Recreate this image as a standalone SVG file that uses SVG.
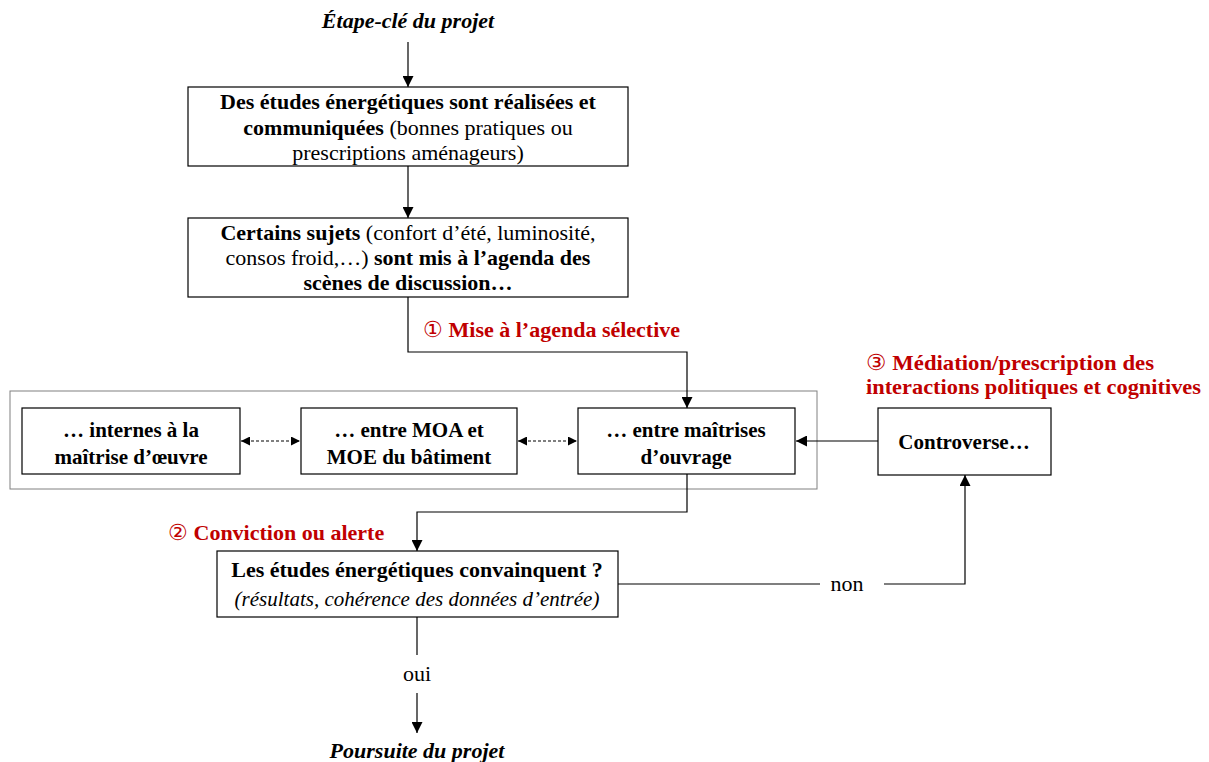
<svg xmlns="http://www.w3.org/2000/svg" width="1209" height="762" viewBox="0 0 1209 762">
<defs>
<marker id="ah" viewBox="0 0 10 10" refX="10" refY="5" markerWidth="11" markerHeight="11" markerUnits="userSpaceOnUse" orient="auto"><path d="M0,0 L10,5 L0,10 z" fill="#000"/></marker>
<marker id="ahs" viewBox="0 0 10 10" refX="10" refY="5" markerWidth="9" markerHeight="9" markerUnits="userSpaceOnUse" orient="auto-start-reverse"><path d="M0,0 L10,5 L0,10 z" fill="#000"/></marker>
<style>
text{font-family:"Liberation Serif","DejaVu Serif",serif;fill:#000}
.t{font-size:22px;text-anchor:middle}
.s{font-size:21px}
.b{font-weight:bold}
.i{font-style:italic}
.r{fill:#c00000;font-weight:bold;font-size:22px}
.n{font-weight:normal}
.box{fill:#fff;stroke:#000;stroke-width:1.2}
.ln{fill:none;stroke:#000;stroke-width:1.2}
.dash{fill:none;stroke:#000;stroke-width:1.2;stroke-dasharray:3,2}
</style>
</defs>
<rect x="10" y="391" width="807" height="98" fill="none" stroke="#808080" stroke-width="1"/>
<g id="connectors">
<line class="ln" x1="408" y1="42" x2="408" y2="87" marker-end="url(#ah)"/>
<line class="ln" x1="408" y1="166" x2="408" y2="218" marker-end="url(#ah)"/>
<polyline class="ln" points="408,297 408,352 687,352 687,408" marker-end="url(#ah)"/>
<line class="dash" x1="241" y1="441" x2="300" y2="441" marker-start="url(#ahs)" marker-end="url(#ahs)"/>
<line class="dash" x1="518" y1="441" x2="577" y2="441" marker-start="url(#ahs)" marker-end="url(#ahs)"/>
<line class="ln" x1="878" y1="441" x2="796" y2="441" marker-end="url(#ah)"/>
<polyline class="ln" points="687,474 687,512 417,512 417,551" marker-end="url(#ah)"/>
<line class="ln" x1="618" y1="584" x2="820" y2="584"/>
<polyline class="ln" points="884,584 965,584 965,475" marker-end="url(#ah)"/>
<line class="ln" x1="417" y1="617" x2="417" y2="655"/>
<line class="ln" x1="417" y1="693" x2="417" y2="733" marker-end="url(#ah)"/>
<text class="t" x="847" y="591" font-size="23">non</text>
<text class="t" x="417" y="681">oui</text>
<text class="r" x="423" y="337"><tspan class="n">①</tspan> Mise à l’agenda sélective</text>
<text class="r" x="168" y="540"><tspan class="n">②</tspan> Conviction ou alerte</text>
<text class="r" x="866" y="370" textLength="288" lengthAdjust="spacingAndGlyphs"><tspan class="n">③</tspan> Médiation/prescription des</text>
<text class="r" x="866" y="394" textLength="335" lengthAdjust="spacingAndGlyphs">interactions politiques et cognitives</text>
</g>
<g id="start"><text class="t b i" x="408" y="28">Étape-clé du projet</text></g>
<g id="n1">
<rect class="box" x="188" y="87" width="440" height="79"/>
<text class="t" x="408" y="109"><tspan class="b">Des études énergétiques sont réalisées et</tspan></text>
<text class="t" x="408" y="135"><tspan class="b">communiquées</tspan> (bonnes pratiques ou</text>
<text class="t" x="408" y="160">prescriptions aménageurs)</text>
</g>
<g id="n2">
<rect class="box" x="188" y="218" width="440" height="79"/>
<text class="t" x="408" y="240"><tspan class="b">Certains sujets</tspan> (confort d’été, luminosité,</text>
<text class="t" x="408" y="265">consos froid,…) <tspan class="b">sont mis à l’agenda des</tspan></text>
<text class="t b" x="408" y="290">scènes de discussion…</text>
</g>
<g id="na">
<rect class="box" x="22" y="408" width="218" height="66"/>
<text class="t b s" x="131" y="437">… internes à la</text>
<text class="t b s" x="131" y="464">maîtrise d’œuvre</text>
</g>
<g id="nb">
<rect class="box" x="301" y="408" width="216" height="66"/>
<text class="t b s" x="409" y="437">… entre MOA et</text>
<text class="t b s" x="409" y="464">MOE du bâtiment</text>
</g>
<g id="nc">
<rect class="box" x="578" y="408" width="217" height="66"/>
<text class="t b s" x="686" y="437">… entre maîtrises</text>
<text class="t b s" x="686" y="464">d’ouvrage</text>
</g>
<g id="nd">
<rect class="box" x="878" y="408" width="173" height="67"/>
<text class="t b s" x="964" y="449">Controverse…</text>
</g>
<g id="ne">
<rect class="box" x="217" y="551" width="401" height="66"/>
<text class="t b" x="417" y="577">Les études énergétiques convainquent ?</text>
<text class="t i s" x="417" y="606">(résultats, cohérence des données d’entrée)</text>
</g>
<g id="end"><text class="t b i" x="417" y="758">Poursuite du projet</text></g>
</svg>
